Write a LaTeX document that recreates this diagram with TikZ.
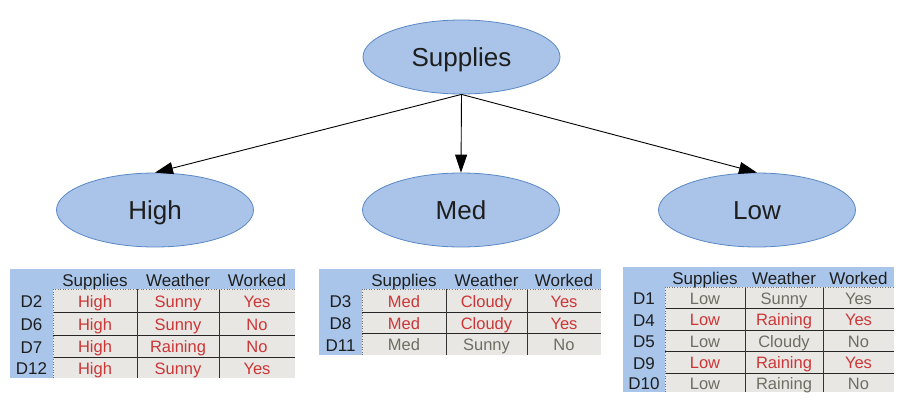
\documentclass[tikz,border=0pt]{standalone}
\usepackage{fontspec}
\setmainfont{Liberation Sans}
\usetikzlibrary{shapes.geometric,arrows.meta}
\definecolor{ellfill}{HTML}{A9C4E8}
\definecolor{elldraw}{HTML}{5A88C6}
\definecolor{tblue}{HTML}{A9C5E9}
\definecolor{cellbg}{HTML}{E9E7E4}
\definecolor{tred}{HTML}{CC3636}
\definecolor{tgray}{HTML}{6E6E62}
\definecolor{thead}{HTML}{1E1E1E}
\tikzset{
  ell/.style={ellipse, draw=elldraw, fill=ellfill, line width=0.8pt, minimum width=197pt, minimum height=74pt, inner sep=0pt, font=\fontsize{26}{28}\selectfont, text=thead, text height=18.6pt, text depth=0pt},
  conn/.style={line width=0.9pt, -{Triangle[length=18pt,width=12pt]}},
  ttxt/.style={inner sep=0pt, font=\fontsize{16.5}{18}\selectfont, text height=11.8pt, text depth=0pt},
  htxt/.style={inner sep=0pt, font=\fontsize{17}{19}\selectfont, text height=12.2pt, text depth=0pt, text=thead},
  rowline/.style={line width=0.9pt, draw=black!85},
  colline/.style={line width=0.9pt, draw=black!80},
  edgeline/.style={line width=0.6pt, draw=black!55, dotted},
}
\begin{document}
\begin{tikzpicture}[x=1pt,y=-1pt]
\useasboundingbox (0,0) rectangle (905,402);
\fill[white] (0,0) rectangle (905,402);

% ellipses
\node[ell] (sup) at (461.5,57) {Supplies};
\node[ell] (high) at (155,210) {High};
\node[ell] (med) at (461,210) {Med};
\node[ell] (low) at (757,210) {Low};

\draw[conn] (sup.south) -- (high.north);
\draw[conn] (sup.south) -- (med.north);
\draw[conn] (sup.south) -- (low.north);

% ---------- Table 1 ----------
\fill[tblue] (10,269) rectangle (295,378);
\fill[cellbg] (53,289) rectangle (295,378);
\node[htxt] (t1h1) at (95,280) {Supplies};
\node[htxt] (t1h2) at (178,280) {Weather};
\node[htxt] (t1h3) at (257,280) {Worked};
\foreach \i/\ya/\yb/\lab/\s/\w/\k/\col in {
  1/289/312/D2/High/Sunny/Yes/tred,
  2/312/335/D6/High/Sunny/No/tred,
  3/335/357/D7/High/Raining/No/tred,
  4/357/378/D12/High/Sunny/Yes/tred}{
  \node[htxt] (t1l\i) at (31.5,{(\ya+\yb)/2+1}) {\lab};
  \node[ttxt,text=\col] (t1a\i) at (95,{(\ya+\yb)/2+1}) {\s};
  \node[ttxt,text=\col] (t1b\i) at (178,{(\ya+\yb)/2+1}) {\w};
  \node[ttxt,text=\col] (t1c\i) at (257,{(\ya+\yb)/2+1}) {\k};
}
\foreach \y in {312,335,357} \draw[rowline] (53,\y) -- (295,\y);
\foreach \x in {137,219} \draw[colline] (\x,289) -- (\x,378);
\draw[edgeline] (53,378) -- (53,289) -- (295,289);

% ---------- Table 2 ----------
\fill[tblue] (319,269) rectangle (601,355);
\fill[cellbg] (362,289) rectangle (601,355);
\node[htxt] (t2h1) at (404,280) {Supplies};
\node[htxt] (t2h2) at (486.5,280) {Weather};
\node[htxt] (t2h3) at (564,280) {Worked};
\foreach \i/\ya/\yb/\lab/\s/\w/\k/\col in {
  1/289/312/D3/Med/Cloudy/Yes/tred,
  2/312/333/D8/Med/Cloudy/Yes/tred,
  3/333/355/D11/Med/Sunny/No/tgray}{
  \node[htxt] (t2l\i) at (340.5,{(\ya+\yb)/2+1}) {\lab};
  \node[ttxt,text=\col] (t2a\i) at (404,{(\ya+\yb)/2+1}) {\s};
  \node[ttxt,text=\col] (t2b\i) at (486.5,{(\ya+\yb)/2+1}) {\w};
  \node[ttxt,text=\col] (t2c\i) at (564,{(\ya+\yb)/2+1}) {\k};
}
\foreach \y in {312,333} \draw[rowline] (362,\y) -- (601,\y);
\foreach \x in {446,527} \draw[colline] (\x,289) -- (\x,355);
\draw[edgeline] (362,355) -- (362,289) -- (601,289);

% ---------- Table 3 ----------
\fill[tblue] (623,267) rectangle (894,392);
\fill[cellbg] (665,287) rectangle (894,392);
\node[htxt] (t3h1) at (705,278) {Supplies};
\node[htxt] (t3h2) at (784,278) {Weather};
\node[htxt] (t3h3) at (858.5,278) {Worked};
\foreach \i/\ya/\yb/\lab/\s/\w/\k/\col in {
  1/287/308/D1/Low/Sunny/Yes/tgray,
  2/308/330/D4/Low/Raining/Yes/tred,
  3/330/351/D5/Low/Cloudy/No/tgray,
  4/351/373/D9/Low/Raining/Yes/tred,
  5/373/392/D10/Low/Raining/No/tgray}{
  \node[htxt] (t3l\i) at (644,{(\ya+\yb)/2+1}) {\lab};
  \node[ttxt,text=\col] (t3a\i) at (705,{(\ya+\yb)/2+1}) {\s};
  \node[ttxt,text=\col] (t3b\i) at (784,{(\ya+\yb)/2+1}) {\w};
  \node[ttxt,text=\col] (t3c\i) at (858.5,{(\ya+\yb)/2+1}) {\k};
}
\foreach \y in {308,330,351,373} \draw[rowline] (665,\y) -- (894,\y);
\foreach \x in {745,823} \draw[colline] (\x,287) -- (\x,392);
\draw[edgeline] (665,392) -- (665,287) -- (894,287);
\end{tikzpicture}
\end{document}
